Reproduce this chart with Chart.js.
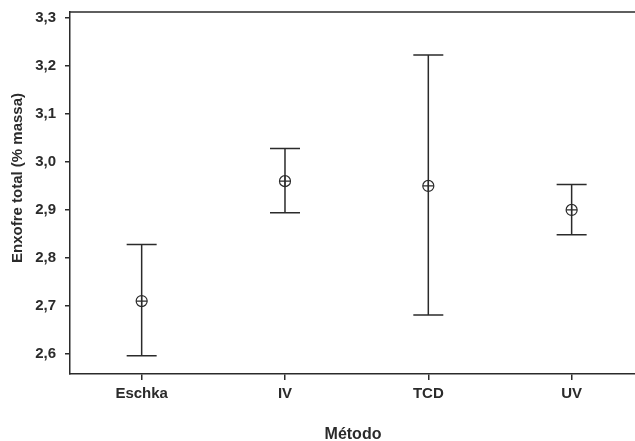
<!DOCTYPE html>
<html>
<head>
<meta charset="utf-8">
<script src="https://cdn.jsdelivr.net/npm/chart.js@4"></script>
<style>
  html, body { margin: 0; padding: 0; overflow: hidden; background: #fff; }
  #wrap { position: absolute; left: 0; top: 0; width: 650px; height: 450px; }
</style>
</head>
<body>
<div id="wrap"><canvas id="errChart" width="650" height="450"></canvas></div>
<script>
// Enxofre total por método - média e intervalo
const methods = ['Eschka', 'IV', 'TCD', 'UV'];
const means = [2.71, 2.96, 2.95, 2.90];
const lower = [2.596, 2.894, 2.681, 2.848];
const upper = [2.828, 3.028, 3.223, 2.953];
const yTicks = [2.6, 2.7, 2.8, 2.9, 3.0, 3.1, 3.2, 3.3];

const ink = '#2b2b2b';
const fontFamily = '"Liberation Sans", Arial, sans-serif';

// error bars + frame + axis titles
const errorBars = {
  id: 'errorBars',
  beforeDatasetsDraw(chart) {
    const { ctx, scales: { x, y } } = chart;
    ctx.save();
    ctx.strokeStyle = ink;
    ctx.lineWidth = 1.5;
    methods.forEach((m, i) => {
      const px = x.getPixelForValue(i);
      const yl = y.getPixelForValue(lower[i]);
      const yh = y.getPixelForValue(upper[i]);
      ctx.beginPath();
      ctx.moveTo(px, yl);
      ctx.lineTo(px, yh);
      ctx.moveTo(px - 15, yh);
      ctx.lineTo(px + 15, yh);
      ctx.moveTo(px - 15, yl);
      ctx.lineTo(px + 15, yl);
      ctx.stroke();
    });
    ctx.restore();
  },
  afterDraw(chart) {
    const { ctx, chartArea: a } = chart;
    ctx.save();
    ctx.strokeStyle = ink;
    ctx.lineWidth = 1.5;
    ctx.beginPath();
    ctx.moveTo(a.left, a.top);
    ctx.lineTo(a.right, a.top);
    ctx.lineTo(a.right, a.bottom);
    ctx.stroke();

    ctx.fillStyle = ink;
    ctx.font = 'bold 15px ' + fontFamily;
    ctx.textAlign = 'center';
    ctx.textBaseline = 'middle';
    ctx.translate(18, 178);
    ctx.rotate(-Math.PI / 2);
    ctx.fillText('Enxofre total (% massa)', 0, 0);
    ctx.restore();

    ctx.save();
    ctx.fillStyle = ink;
    ctx.font = 'bold 16px ' + fontFamily;
    ctx.textAlign = 'center';
    ctx.textBaseline = 'middle';
    ctx.fillText('Método', 353, 435);
    ctx.restore();
  }
};

new Chart(document.getElementById('errChart'), {
  type: 'line',
  data: {
    labels: methods,
    datasets: [{
      data: means,
      showLine: false,
      pointStyle: 'circle',
      pointRadius: 5.5,
      pointBorderWidth: 1.2,
      pointBorderColor: ink,
      pointBackgroundColor: 'rgba(0,0,0,0)'
    }, {
      data: means,
      showLine: false,
      pointStyle: 'cross',
      pointRadius: 5.5,
      pointBorderWidth: 1.2,
      pointBorderColor: ink
    }]
  },
  options: {
    responsive: false,
    animation: false,
    devicePixelRatio: 1,
    layout: { padding: { top: 12, left: 0, right: 2, bottom: 0 } },
    plugins: { legend: { display: false }, tooltip: { enabled: false } },
    scales: {
      x: {
        offset: true,
        grid: { drawOnChartArea: false, tickLength: 6, color: ink, lineWidth: 1.5, offset: false },
        border: { display: true, color: ink, width: 1.5 },
        ticks: { color: ink, padding: 5, font: { family: fontFamily, size: 15, weight: 'bold' } },
        afterFit(scale) { scale.height = 76; scale.paddingLeft = 0; scale.paddingRight = 0; }
      },
      y: {
        min: 2.558,
        max: 3.3125,
        afterBuildTicks(scale) { scale.ticks = yTicks.map(v => ({ value: v })); },
        grid: { drawOnChartArea: false, tickLength: 5, color: ink, lineWidth: 1.5 },
        border: { display: true, color: ink, width: 1.5 },
        ticks: {
          color: ink,
          padding: 9,
          font: { family: fontFamily, size: 15, weight: 'bold' },
          callback: v => v.toFixed(1).replace('.', ',')
        },
        afterFit(scale) { scale.width = 70; scale.paddingTop = 0; scale.paddingBottom = 0; }
      }
    }
  },
  plugins: [errorBars]
});
</script>
</body>
</html>
